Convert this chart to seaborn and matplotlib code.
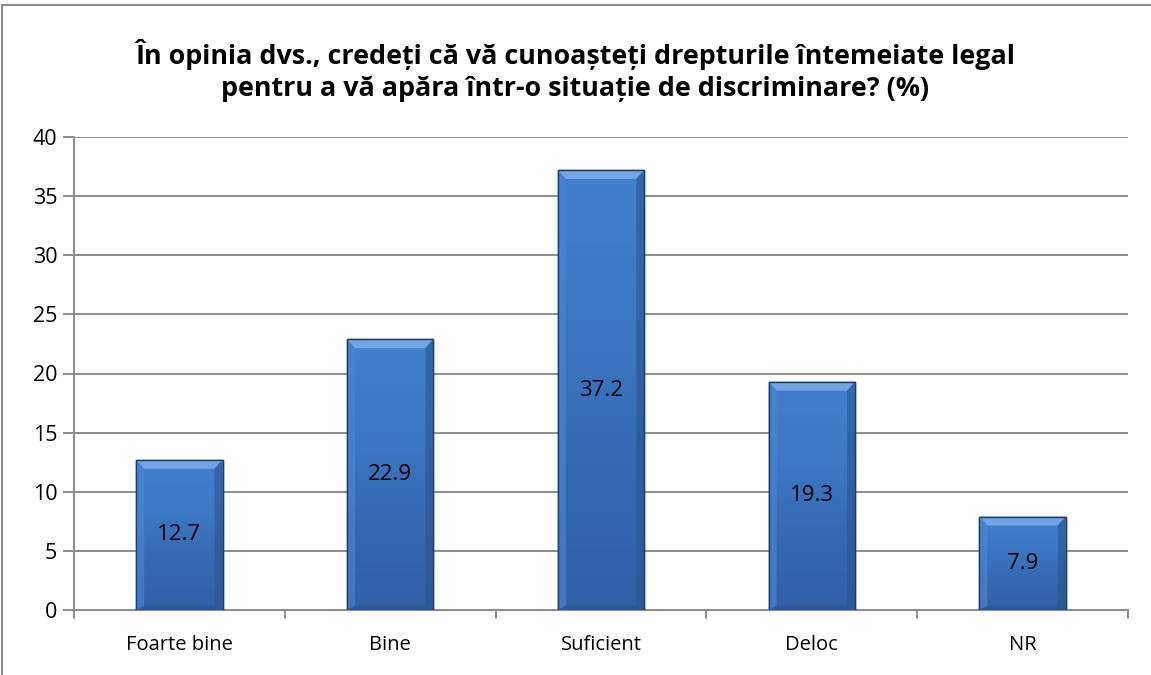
import numpy as np
import pandas as pd
import seaborn as sns
import matplotlib
matplotlib.use("Agg")
import matplotlib.pyplot as plt
from matplotlib.lines import Line2D
from matplotlib.patches import Polygon
from matplotlib.colors import LinearSegmentedColormap

categories = ["Foarte bine", "Bine", "Suficient", "Deloc", "NR"]
values = [12.7, 22.9, 37.2, 19.3, 7.9]
yticks = [0, 5, 10, 15, 20, 25, 30, 35, 40]
title = "În opinia dvs., credeți că vă cunoașteți drepturile întemeiate legal\npentru a vă apăra într-o situație de discriminare? (%)"

sns.set_theme(style="white")
plt.rcParams['font.family'] = ['Open Sans', 'DejaVu Sans']
plt.rcParams['text.color'] = 'black'
plt.rcParams['xtick.color'] = 'black'
plt.rcParams['ytick.color'] = 'black'

df = pd.DataFrame({"cat": categories, "val": values})
fig = plt.figure(figsize=(11.51, 6.75), dpi=100)
ax = fig.add_axes([74/1151, 1 - 610/675, (1128-74)/1151, (610-137)/675])

sns.barplot(data=df, x="cat", y="val", ax=ax, color="#3B74BE", width=0.41,
            edgecolor="#1F3F6A", linewidth=1.0, zorder=3)

ax.set_ylim(0, 40)
ax.set_xlim(-0.5, len(categories) - 0.5)
ax.set_yticks(yticks)
ax.set_yticklabels([str(t) for t in yticks], fontsize=15.5)
ax.yaxis.grid(True, color="#8C8C8C", linewidth=1.4, zorder=0)
ax.set_axisbelow(True)
ax.set_xlabel("")
ax.set_ylabel("")
ax.tick_params(axis='x', labelsize=14.5, length=0, pad=18, labelcolor="black")
ax.tick_params(axis='y', left=True, length=8, width=1.4, color="#8C8C8C", pad=4,
               labelcolor="black")
for s in ["top", "right"]:
    ax.spines[s].set_visible(False)
for s in ["left", "bottom"]:
    ax.spines[s].set_color("#8C8C8C")
    ax.spines[s].set_linewidth(1.4)

# x boundary ticks
for b in np.arange(-0.5, len(categories), 1.0):
    ax.plot([b, b], [0, -0.65], color="#8C8C8C", lw=1.4, clip_on=False, zorder=2)

# gradient fill with bevel for bars
cmap = LinearSegmentedColormap.from_list("bar", ["#4281CE", "#3D78C4", "#3569B2", "#3160A6"])
grad = np.linspace(0, 1, 256).reshape(-1, 1)
bx, by = 0.038, 0.75
for p in ax.patches[:len(values)]:
    x0, y0 = p.get_x(), p.get_y()
    w, h = p.get_width(), p.get_height()
    x1, y1 = x0 + w, y0 + h
    im = ax.imshow(grad, extent=[x0, x1, y0, y1], aspect='auto',
                   cmap=cmap, zorder=3.5)
    im.set_clip_path(p)
    ax.add_patch(Polygon([(x0, y1), (x1, y1), (x1 - bx, y1 - by), (x0 + bx, y1 - by)],
                         closed=True, color="#73A5E4", lw=0, zorder=3.6))
    ax.add_patch(Polygon([(x0, y1), (x0 + bx, y1 - by), (x0 + bx, y0 + by * 0.5), (x0, y0)],
                         closed=True, color="#4C88D2", alpha=0.6, lw=0, zorder=3.6))
    ax.add_patch(Polygon([(x1, y1), (x1 - bx, y1 - by), (x1 - bx, y0 + by * 0.5), (x1, y0)],
                         closed=True, color="#2A5590", alpha=0.6, lw=0, zorder=3.6))
    ax.add_patch(Polygon([(x0, y0), (x1, y0), (x1 - bx, y0 + by * 0.5), (x0 + bx, y0 + by * 0.5)],
                         closed=True, color="#2A5590", alpha=0.6, lw=0, zorder=3.6))
    ax.add_patch(plt.Rectangle((x0, y0), w, h, fill=False, edgecolor="#1F3F6A",
                               lw=1.0, zorder=3.7))

for i, v in enumerate(values):
    ax.text(i, v / 2, f"{v:.1f}", ha="center", va="center", fontsize=16,
            color="black", zorder=5)

fig.text(0.5, 1 - 70/675, title, ha="center", va="center", fontsize=19.4,
         fontweight="bold", linespacing=1.3, color="black")

# outer frame
fig.add_artist(Line2D([2/1151, 1], [1 - 5/675, 1 - 5/675], color="#8C8C8C", lw=1.5))
fig.add_artist(Line2D([2/1151, 2/1151], [0, 1 - 5/675], color="#8C8C8C", lw=1.5))

fig.savefig("out.png", dpi=100)
